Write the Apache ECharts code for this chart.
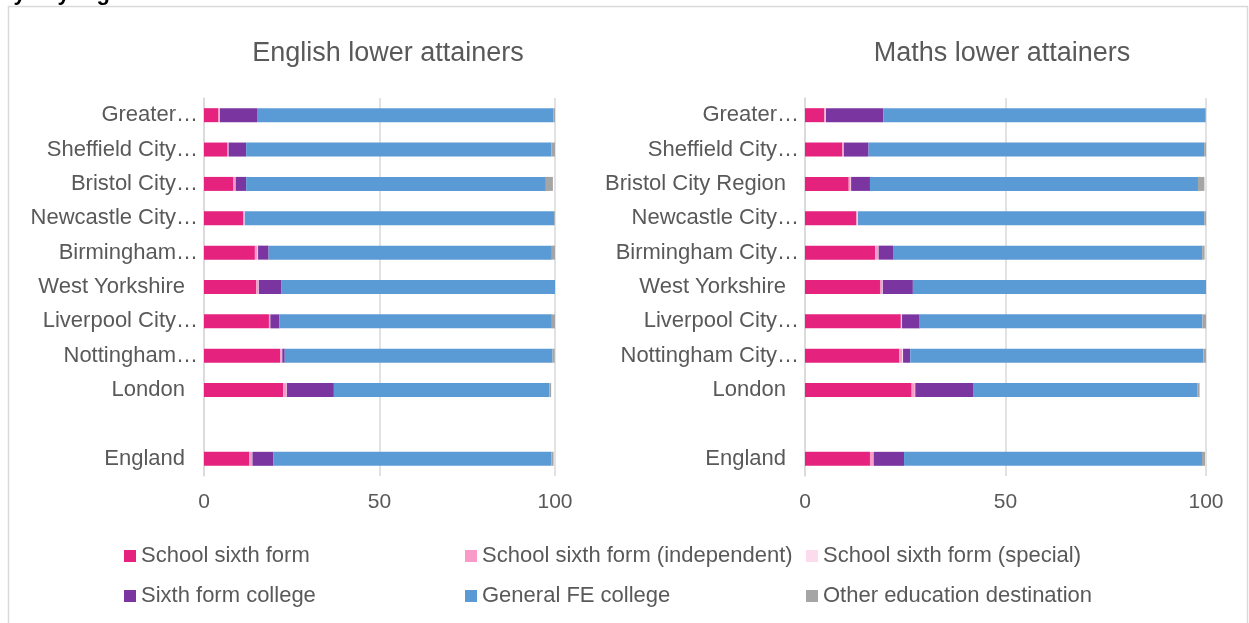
<!DOCTYPE html>
<html>
<head>
<meta charset="utf-8">
<title>Lower attainers destinations by city region</title>
<script src="https://cdn.jsdelivr.net/npm/echarts@6/dist/echarts.min.js"></script>
<style>
    html, body {margin: 0; padding: 0; background: #fff;}
    #main {width: 1249px; height: 623px;}
</style>
</head>
<body>
<div id="main"></div>
<script>
// labels as shown on each chart (top to bottom, blank row before England)
let engLabels = ['Greater…', 'Sheffield City…', 'Bristol City…', 'Newcastle City…', 'Birmingham…',
    'West Yorkshire', 'Liverpool City…', 'Nottingham…', 'London', '', 'England'];
let mathLabels = ['Greater…', 'Sheffield City…', 'Bristol City Region', 'Newcastle City…', 'Birmingham City…',
    'West Yorkshire', 'Liverpool City…', 'Nottingham City…', 'London', '', 'England'];

let seriesNames = ['School sixth form', 'School sixth form (independent)', 'School sixth form (special)',
    'Sixth form college', 'General FE college', 'Other education destination'];
let colors = ['#e5237f', '#f99ac8', '#fcdcec', '#7a35a0', '#5b9bd5', '#a5a5a5'];

// English lower attainers (%)
let engSixth   = [4.1, 6.7, 8.4, 11.2, 14.5, 14.9, 18.5, 21.7, 22.6, null, 12.9];
let engIndep   = [0.3, 0.2, 0.5, 0.3, 0.8, 0.6, 0.3, 0.5, 0.9, null, 0.8];
let engSpecial = [0.1, 0.1, 0.1, 0.1, 0.1, 0.1, 0.1, 0.1, 0.1, null, 0.1];
let engCollege = [10.6, 5.0, 3.0, 0, 3.0, 6.5, 2.6, 0.7, 13.4, null, 6.0];
let engFE      = [84.5, 87.0, 85.4, 88.2, 80.7, 78.0, 77.6, 76.3, 61.4, null, 79.2];
let engOther   = [0.4, 1.0, 2.0, 0.2, 0.9, 0, 1.1, 0.6, 0.5, null, 0.6];

// Maths lower attainers (%)
let mathSixth   = [4.8, 9.3, 10.9, 12.8, 17.5, 18.7, 23.9, 23.5, 26.6, null, 16.2];
let mathIndep   = [0.3, 0.25, 0.5, 0.3, 0.75, 0.6, 0.2, 0.75, 0.8, null, 0.8];
let mathSpecial = [0.1, 0.1, 0.1, 0.1, 0.1, 0.1, 0.1, 0.2, 0.1, null, 0.1];
let mathCollege = [14.3, 6.2, 4.7, 0, 3.6, 7.5, 4.4, 1.8, 14.4, null, 7.6];
let mathFE      = [80.4, 83.7, 81.8, 86.4, 77.1, 73.1, 70.5, 73.1, 56.0, null, 74.3];
let mathOther   = [0.1, 0.5, 1.6, 0.5, 0.6, 0, 1.0, 0.75, 0.5, null, 0.75];

let xTicks = [0, 50, 100];

let engData = [engSixth, engIndep, engSpecial, engCollege, engFE, engOther];
let mathData = [mathSixth, mathIndep, mathSpecial, mathCollege, mathFE, mathOther];

const textColor = '#595959';
const lineColor = '#d9d9d9';
const fontFamily = 'Liberation Sans, Arial, sans-serif';

let myChart = echarts.init(document.getElementById('main'));

let xAxisFor = (idx) => ({
    type: 'value',
    gridIndex: idx,
    min: xTicks[0],
    max: xTicks[xTicks.length - 1],
    interval: xTicks[1] - xTicks[0],
    axisLine: {show: false},
    axisTick: {show: false},
    splitLine: {lineStyle: {color: lineColor, width: 1.5}},
    axisLabel: {color: textColor, fontSize: 21, fontFamily: fontFamily, margin: 16}
});

let yAxisFor = (idx, labels) => ({
    type: 'category',
    gridIndex: idx,
    inverse: true,
    data: labels,
    axisLine: {lineStyle: {color: lineColor, width: 1.5}},
    axisTick: {show: false},
    axisLabel: {
        color: textColor,
        fontSize: 22,
        fontFamily: fontFamily,
        margin: 6,
        formatter: (v) => v.slice(-1) === '…' ? '{e|' + v + '}' : '{n|' + v + '}',
        rich: {
            e: {color: textColor, fontSize: 22, fontFamily: fontFamily},
            n: {color: textColor, fontSize: 22, fontFamily: fontFamily, padding: [0, 13, 0, 0]}
        }
    }
});

let buildSeries = (data, idx, stack) => data.map((arr, i) => ({
    name: seriesNames[i],
    type: 'bar',
    stack: stack,
    xAxisIndex: idx,
    yAxisIndex: idx,
    barWidth: 14,
    silent: true,
    itemStyle: {color: colors[i]},
    data: arr
}));

let legendPos = [[124, 545], [465, 545], [806, 545], [124, 585], [465, 585], [806, 585]];
let legends = seriesNames.map((name, i) => ({
    data: [name],
    left: legendPos[i][0],
    top: legendPos[i][1],
    padding: 0,
    icon: 'rect',
    itemWidth: 12,
    itemHeight: 12,
    selectedMode: false,
    textStyle: {color: textColor, fontSize: 22, fontFamily: fontFamily}
}));

let option = {
    animation: false,
    color: colors,
    title: [
        {text: 'English lower attainers', left: 383, top: 35, textAlign: 'center',
            textStyle: {color: textColor, fontSize: 27, fontWeight: 'normal', fontFamily: fontFamily}},
        {text: 'Maths lower attainers', left: 997, top: 35, textAlign: 'center',
            textStyle: {color: textColor, fontSize: 27, fontWeight: 'normal', fontFamily: fontFamily}}
    ],
    legend: legends,
    grid: [
        {left: 204, right: 694, top: 98, height: 378},
        {left: 805, right: 43, top: 98, height: 378}
    ],
    xAxis: [xAxisFor(0), xAxisFor(1)],
    yAxis: [yAxisFor(0, engLabels), yAxisFor(1, mathLabels)],
    series: buildSeries(engData, 0, 'eng').concat(buildSeries(mathData, 1, 'math')),
    graphic: [
        {   // outer frame of the chart area
            type: 'rect',
            shape: {x: 8.5, y: 6.5, width: 1239, height: 700},
            style: {fill: null, stroke: lineColor, lineWidth: 1.5},
            silent: true
        },
        {   // heading of the page, cut off by the top edge
            type: 'text',
            left: 0,
            top: -17,
            style: {text: 'by city region', fill: '#000', font: 'bold 22px Liberation Sans, Arial, sans-serif'},
            silent: true
        }
    ]
};

myChart.setOption(option);
</script>
</body>
</html>
